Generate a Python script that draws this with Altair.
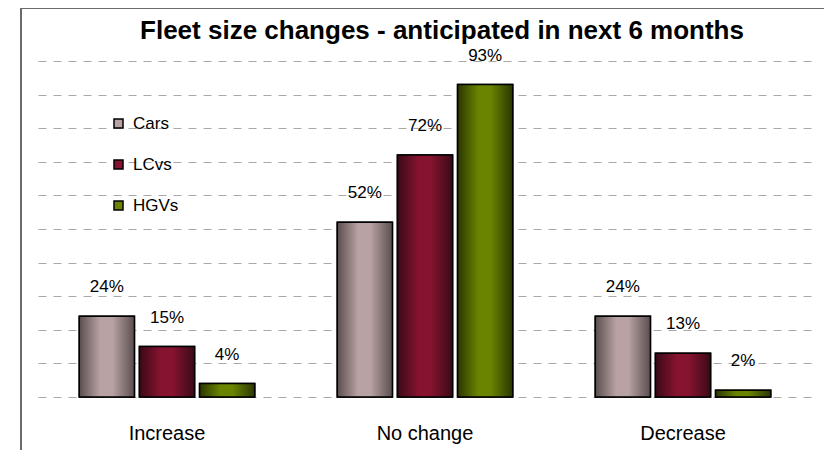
import altair as alt
import pandas as pd

categories = ["Increase", "No change", "Decrease"]
series = ["Cars", "LCvs", "HGVs"]
cars = [24, 52, 24]
lcvs = [15, 72, 13]
hgvs = [4, 93, 2]
title_text = "Fleet size changes - anticipated in next 6 months"

mid_colors = ["#b9a2a3", "#86132f", "#6a8400"]
edge_colors = ["#5a4e4f", "#3a0a17", "#2b3600"]

rows = []
for s, vals in zip(series, [cars, lcvs, hgvs]):
    for c, v in zip(categories, vals):
        rows.append({"category": c, "series": s, "value": v, "label": f"{v}%"})
df = pd.DataFrame(rows)

FONT = "Liberation Sans"

x_enc = alt.X("category:N", sort=categories,
              scale=alt.Scale(paddingInner=0.32, paddingOuter=0.16),
              axis=alt.Axis(title=None, domain=False, ticks=False, labelAngle=0,
                            labelFontSize=20, labelFont=FONT, labelColor="black",
                            labelPadding=26, grid=False))
xoff_enc = alt.XOffset("series:N", sort=series,
                       scale=alt.Scale(domain=series, paddingInner=0.083, paddingOuter=0))
y_enc = alt.Y("value:Q", scale=alt.Scale(domain=[0, 100], nice=False),
              axis=alt.Axis(title=None, labels=False, ticks=False, domain=False,
                            values=list(range(0, 101, 10)), grid=True,
                            gridDash=[8, 7], gridColor="#a8a8a8", gridWidth=1))

base = alt.Chart(df)

legend_layer = base.mark_bar(stroke="black", strokeWidth=1.5).encode(
    x=x_enc, xOffset=xoff_enc, y=y_enc,
    color=alt.Color("series:N", sort=series,
                    scale=alt.Scale(domain=series, range=mid_colors),
                    legend=alt.Legend(title=None, orient="none", legendX=72, legendY=54,
                                      symbolType="square", symbolSize=81,
                                      symbolStrokeColor="black", symbolStrokeWidth=1.5,
                                      labelFontSize=17, labelFont=FONT, labelColor="black",
                                      rowPadding=23, labelOffset=6, padding=0)),
)

bar_layers = []
for s, mid, edge in zip(series, mid_colors, edge_colors):
    grad = alt.Gradient(
        gradient="linear",
        stops=[alt.GradientStop(color=edge, offset=0),
               alt.GradientStop(color=mid, offset=0.38),
               alt.GradientStop(color=mid, offset=0.6),
               alt.GradientStop(color=edge, offset=1)],
        x1=0, x2=1, y1=0, y2=0)
    bar_layers.append(
        base.transform_filter(alt.datum.series == s)
        .mark_bar(fill=grad, stroke="black", strokeWidth=1.5)
        .encode(x=x_enc, xOffset=xoff_enc, y=y_enc)
    )

text_layer = base.mark_text(fontSize=17, font=FONT, color="black", dy=-24,
                            baseline="alphabetic").encode(
    x=x_enc, xOffset=xoff_enc, y=y_enc, text="label:N")

frame_data = alt.Data(values=[{"k": 1}])
frame_left = alt.Chart(frame_data).mark_rule(color="#6b6b6b", strokeWidth=2).encode(
    x=alt.value(-17), y=alt.value(-53), y2=alt.value(420))
frame_top = alt.Chart(frame_data).mark_rule(color="#6b6b6b", strokeWidth=2).encode(
    x=alt.value(-18), x2=alt.value(800), y=alt.value(-53))

title_layer = alt.Chart(alt.Data(values=[{"t": title_text}])).mark_text(
    fontSize=26, font=FONT, fontWeight="bold", color="black",
    align="center", baseline="alphabetic").encode(
    x=alt.value(404), y=alt.value(-22), text="t:N")

chart = alt.layer(legend_layer, *bar_layers, text_layer, frame_left, frame_top,
                  title_layer).properties(
    width=774, height=336,
    autosize=alt.AutoSizeParams(type="none"),
    padding={"left": 30, "top": 53, "right": 12, "bottom": 53},
).configure(background="white").configure_view(stroke=None)

chart.save("out.html", embed_options={"renderer": "svg", "actions": False})
